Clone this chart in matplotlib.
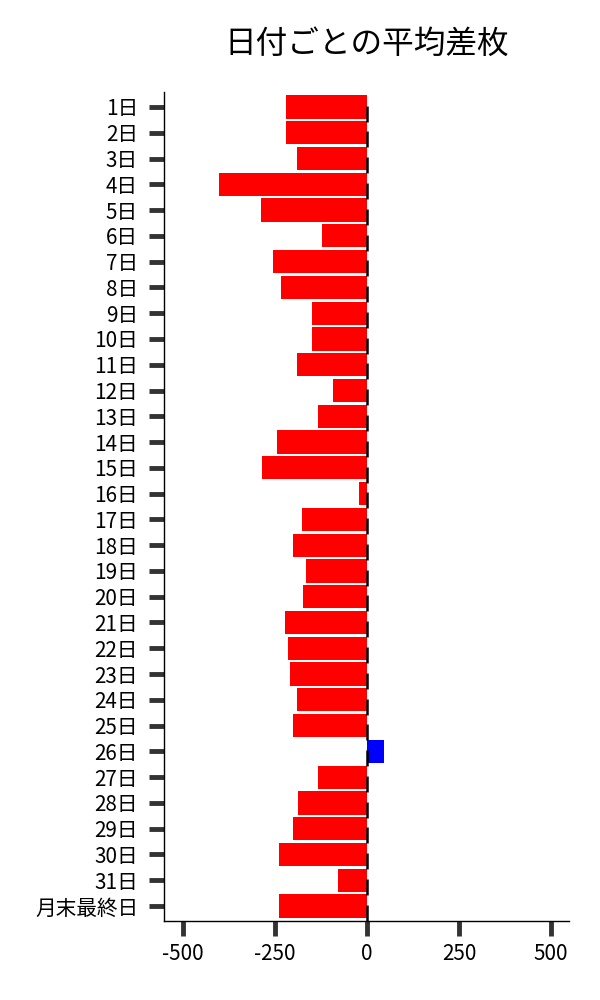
import matplotlib
matplotlib.use("Agg")
import matplotlib.pyplot as plt
import numpy as np

plt.rcParams['font.family'] = ['Noto Sans CJK JP', 'DejaVu Sans']

categories = [f"{d}日" for d in range(1, 32)] + ["月末最終日"]
values = [-220, -220, -190, -402, -288, -122, -255, -234, -149, -149,
          -190, -92, -133, -245, -285, -22, -177, -201, -166, -174,
          -223, -215, -209, -190, -201, 46, -133, -188, -201, -239,
          -79, -239]
xticks = [-500, -250, 0, 250, 500]

fig = plt.figure(figsize=(6, 10), dpi=100)
ax = fig.add_axes([0.274, 0.079, 0.675, 0.829])

pos = np.arange(len(categories))
colors = ['#0000ff' if v > 0 else '#ff0000' for v in values]
ax.barh(pos, values, height=0.9, color=colors, edgecolor='none', zorder=2)
ax.vlines(np.zeros(len(pos)), pos - 0.05, pos + 0.57, color='black', linewidth=1.8, zorder=3)

ax.set_yticks(pos)
ax.set_yticklabels(categories)
ax.set_ylim(len(categories) - 1 + 0.58, -0.58)
ax.set_xlim(-550, 550)
ax.set_xticks(xticks)
ax.set_xticklabels([str(t) for t in xticks])

ax.tick_params(axis='both', length=11, width=3.5, color='#333333', labelsize=14.9)
ax.tick_params(axis='y', pad=8)
ax.tick_params(axis='x', pad=5)
for s in ['top', 'right']:
    ax.spines[s].set_visible(False)
for s in ['left', 'bottom']:
    ax.spines[s].set_linewidth(1.0)
    ax.spines[s].set_color('black')

ax.set_title("日付ごとの平均差枚", fontsize=22.8, pad=28)

fig.savefig("out.png", dpi=100)
